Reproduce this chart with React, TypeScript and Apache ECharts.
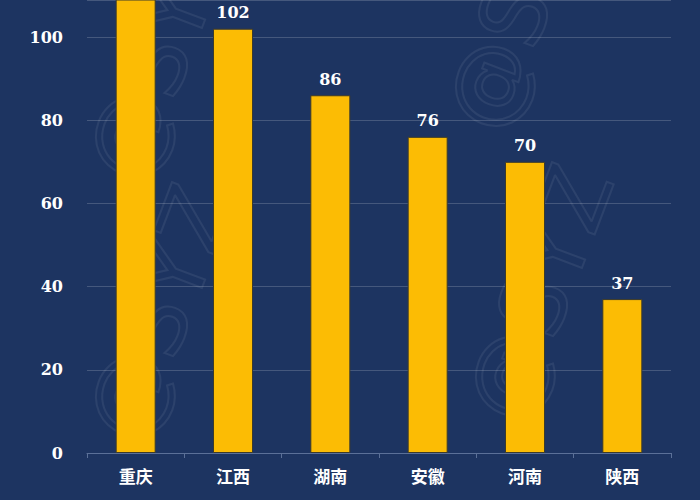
import React, { useEffect, useRef } from "react";
import * as echarts from "echarts";

const categories = ["重庆", "江西", "湖南", "安徽", "河南", "陕西"];
const values = [116, 102, 86, 76, 70, 37];
const yMin = 0;
const yMax = 108.9;
const yInterval = 20;

export default function App() {
  const ref = useRef<HTMLDivElement>(null);
  useEffect(() => {
    const chart = echarts.init(ref.current!, null, { renderer: "svg" });
    const wm = (x: number, y: number) => ({
      type: "text",
      x,
      y,
      rotation: Math.PI / 2.6,
      silent: true,
      z: 0,
      style: {
        text: "@SYZ",
        fontSize: 90,
        fontFamily: "DejaVu Sans",
        fill: "none",
        stroke: "rgba(255,255,255,0.07)",
        lineWidth: 2,
      },
    });
    chart.setOption({
      animation: false,
      backgroundColor: "#1d3461",
      graphic: [wm(70, 160), wm(430, 110), wm(450, 400), wm(70, 420)],
      grid: { left: 87, right: 29, top: 0, bottom: 47 },
      xAxis: {
        type: "category",
        data: categories,
        axisLine: { lineStyle: { color: "#5b7098", width: 1 } },
        axisTick: { show: true, length: 5, lineStyle: { color: "#5b7098" } },
        axisLabel: {
          color: "#ffffff",
          fontSize: 17,
          fontWeight: "bold",
          fontFamily: "Noto Sans CJK SC",
          margin: 14,
        },
      },
      yAxis: {
        type: "value",
        min: yMin,
        max: yMax,
        interval: yInterval,
        axisLine: { show: false },
        axisTick: { show: false },
        splitLine: { lineStyle: { color: "rgba(255,255,255,0.18)", width: 1 } },
        axisLabel: {
          showMaxLabel: false,
          formatter: (v: number) => (v % yInterval === 0 ? String(v) : ""),
          color: "#ffffff",
          fontSize: 16,
          fontWeight: "bold",
          fontFamily: "DejaVu Serif",
          margin: 24,
        },
      },
      series: [
        {
          type: "bar",
          data: values.map((v) => (v > yMax ? { value: v, label: { show: false } } : v)),
          barWidth: 40,
          clip: true,
          itemStyle: {
            color: "#fcbc04",
            borderColor: "#3d3b2a",
            borderWidth: 1,
          },
          label: {
            show: true,
            position: "top",
            distance: 8,
            color: "#ffffff",
            fontSize: 16,
            fontWeight: "bold",
            fontFamily: "DejaVu Serif",
          },
        },
      ],
    });
    return () => chart.dispose();
  }, []);
  return <div ref={ref} style={{ width: 700, height: 500, position: "absolute", left: 0, top: 0 }} />;
}
